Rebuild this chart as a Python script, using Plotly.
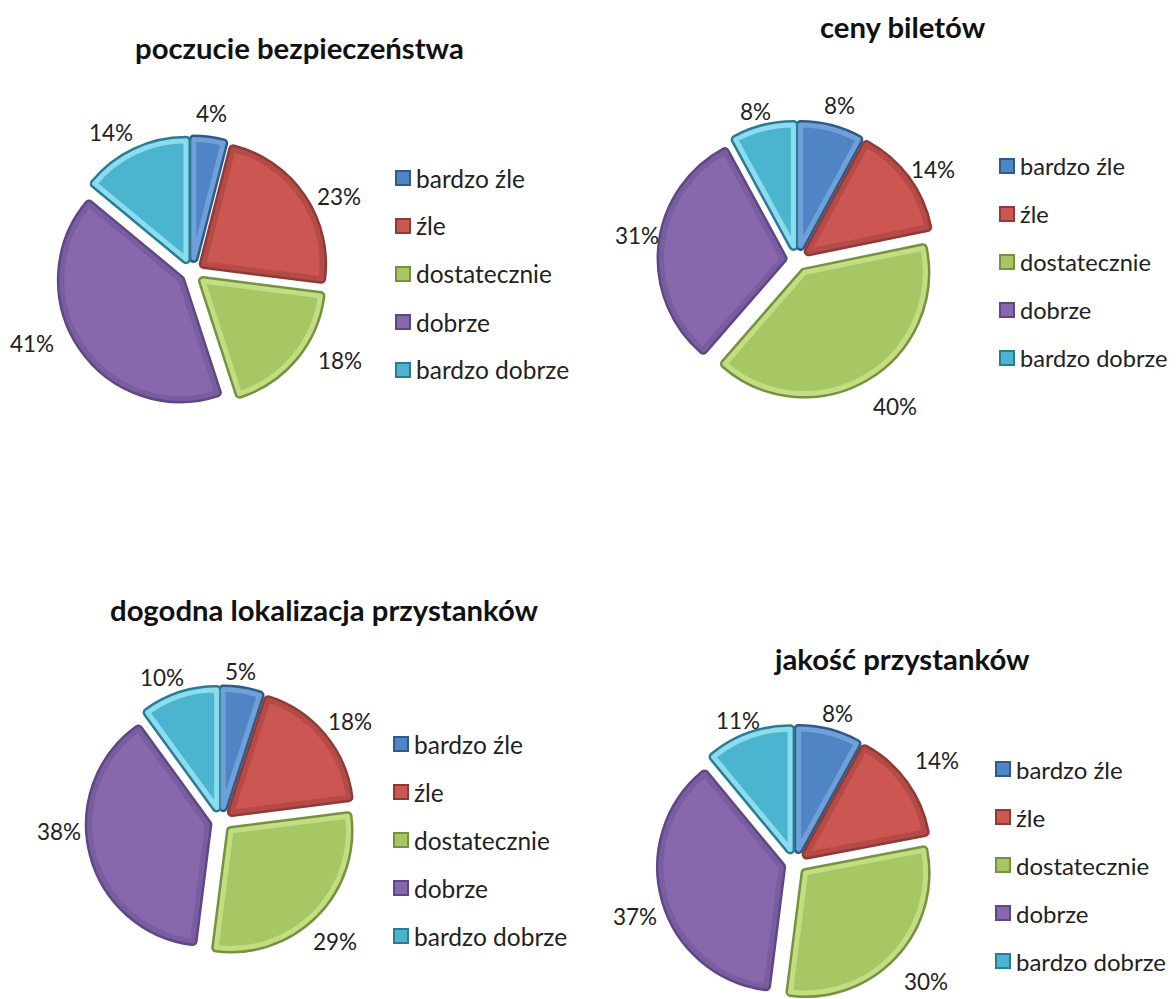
import plotly.graph_objects as go

categories = ["bardzo źle", "źle", "dostatecznie", "dobrze", "bardzo dobrze"]
colors = ["#4F85C5", "#CC5652", "#A6C763", "#8768AC", "#4BB5D0"]
rims_dark = ["#2F5A8C", "#8C3B38", "#76913F", "#5E4785", "#2B7C93"]
rims_mid = ["#6FA0D8", "#B54A47", "#C3DE82", "#7A5DA0", "#8ADCEE"]
titles = ["poczucie bezpieczeństwa", "ceny biletów", "dogodna lokalizacja przystanków", "jakość przystanków"]
values_a = [4, 23, 18, 41, 14]
values_b = [8, 14, 40, 31, 8]
values_c = [5, 18, 29, 38, 10]
values_d = [8, 14, 30, 37, 11]
label_xy_a = [(211, 113), (339, 196), (340, 361), (32, 343), (111, 132)]
label_xy_b = [(839, 105), (933, 169), (895, 406), (637, 235), (755, 112)]
label_xy_c = [(240, 671), (350, 721), (335, 941), (59, 831), (162, 677)]
label_xy_d = [(837, 713), (937, 760), (926, 981), (635, 916), (738, 720)]
W, H = 1168, 991
OX, OY = 8, 8
FONT = "Lato, Carlito, Open Sans, sans-serif"
panels = [
    (values_a, label_xy_a, 192, 272, 136, 299, 47, 414, 178, 24.5),
    (values_b, label_xy_b, 797, 260, 139, 903, 26, 1018, 166, 23.6),
    (values_c, label_xy_c, 221, 821, 135, 324, 609, 412, 744, 24.5),
    (values_d, label_xy_d, 795, 863, 138, 901, 658, 1014, 769, 24.0),
]


def px(x):
    return (x - OX) / W


def py(y):
    return 1 - (y - OY) / H


fig = go.Figure()
ann = []
for i, (vals, lxy, cx, cy, r, tx, ty, lx, ly, lsize) in enumerate(panels):
    d = r * 0.975
    dom = dict(x=[px(cx - d), px(cx + d)], y=[py(cy + d), py(cy - d)])
    for rim, width in ((rims_dark, 10), (rims_mid, 5)):
        fig.add_trace(go.Pie(labels=categories, values=vals, sort=False, direction="clockwise", rotation=0,
            marker=dict(colors=colors, line=dict(color=rim, width=width)), pull=0.12, domain=dom,
            textinfo="none", hoverinfo="label+percent", showlegend=False, automargin=False))
    ann.append(dict(text=f"<b>{titles[i]}</b>", x=px(tx), y=py(ty), xref="paper", yref="paper", showarrow=False,
                    borderpad=0, font=dict(size=29.3, color="#111"), xanchor="center", yanchor="middle"))
    for v, (x, y) in zip(vals, lxy):
        ann.append(dict(text=f"{v}%", x=px(x), y=py(y), xref="paper", yref="paper", showarrow=False,
                        font=dict(size=22.5, color="#222"), xanchor="center", yanchor="middle"))
    for j, c in enumerate(categories):
        y = ly + j * 48
        ann.append(dict(text=c, x=px(lx), y=py(y), xref="paper", yref="paper", showarrow=False,
                        font=dict(size=lsize, color="#222"), xanchor="left", yanchor="middle"))
        ann.append(dict(text=" ", x=px(lx - 11), y=py(y), xref="paper", yref="paper", showarrow=False,
                        width=12, height=12, bgcolor=colors[j], bordercolor=rims_dark[j], borderwidth=2, borderpad=0,
                        font=dict(size=6), xanchor="center", yanchor="middle"))
fig.update_layout(width=W, height=H, margin=dict(l=0, r=0, t=0, b=0), paper_bgcolor="white",
                  font=dict(family=FONT), annotations=ann)
fig.write_html("out.html")
